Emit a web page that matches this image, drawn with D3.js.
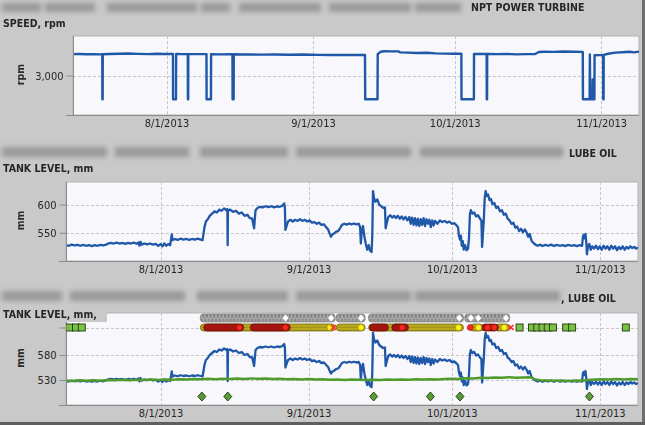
<!DOCTYPE html>
<html><head><meta charset="utf-8">
<script src="https://cdn.jsdelivr.net/npm/d3@7"></script>
<style>
html,body{margin:0;padding:0;background:#c9c9c9;}
svg{display:block;}
</style></head><body>
<svg id="chart" width="645" height="425"></svg>
<script>
// ---------------- DATA (day offsets are days from 8/1/2013) ----------------
const xTickDates = ["2013-08-01", "2013-09-01", "2013-10-01", "2013-11-01"];
const dayDomain = [-19.8, 100.0];
const speedTicks = [3000];
const tankTicks = [550, 600];
const tank3Ticks = [530, 580, 635];

const speedSeries = [
  [-19.8,3540],[-18.5,3545],[-17,3538],[-15.5,3542],[-14,3536],
  [-13.6,3538],[-13.58,2400],[-13.52,2400],[-13.5,3538],
  [-12,3545],[-10,3552],[-8,3556],[-6,3548],[-4,3540],[-2,3552],[-0.5,3545],[1,3548],
  [1.36,3545],[1.38,2400],[2.0,2400],[2.03,3545],
  [3,3540],[4.5,3542],[4.52,2400],[4.58,2400],[4.6,3542],
  [6,3540],[8.45,3540],[8.48,2400],[9.4,2400],[9.43,3538],
  [11,3535],[13.95,3538],[13.98,2400],[14.2,2400],[14.23,3538],
  [16,3530],[18,3535],[20,3528],[23,3532],[26,3525],[29,3530],[32,3522],[35,3520],[38,3518],[40,3522],[42,3520],
  [42.05,2400],[44.65,2400],[44.7,3540],[45.3,3600],[46,3615],[47.5,3612],[49,3610],[49.5,3585],[51,3580],
  [53,3570],[55,3575],[57,3560],[59,3555],[61,3552],[62.4,3550],
  [62.43,2400],[65.05,2400],[65.08,3545],
  [66.5,3545],[67.75,3545],[67.78,2400],[67.84,2400],[67.87,3545],
  [70,3540],[72,3548],[74,3535],[76,3540],[78,3545],[78.8,3595],[80,3600],[82,3598],[84,3606],[86,3600],[88.1,3598],
  [88.13,2400],[89.55,2400],[89.6,3530],[89.68,2400],[90.15,2400],[90.2,2900],[90.26,2400],[90.56,2400],[90.6,3512],
  [91.5,3515],[92.4,3515],[92.43,2400],[92.5,2400],[92.53,3520],
  [93.5,3550],[95,3580],[96.5,3590],[98,3600],[99,3585],[100,3605]
];

const tankSeries = [
  [-19.8,528],[-19.2,527],[-18.6,529],[-18,527.5],[-17.4,528.5],[-16.8,527],[-16.2,528.5],[-15.6,527],[-15,528],
  [-14.4,526.5],[-13.8,528],[-13.2,527],[-12.6,528.5],[-12,527.5],[-11.4,529],[-11,531],[-10.4,532],[-9.8,531],
  [-9.2,532.5],[-8.6,531],[-8,532],[-7.4,530.5],[-6.8,532],[-6.2,531],[-5.6,532.5],[-5,530.5],[-4.6,533],[-4.4,527],
  [-4.2,534],[-3.9,529],[-3.4,531],[-2.8,529.5],[-2.2,531],[-1.6,529],[-1,530.5],[-0.5,527],[0,530],[0.4,526],
  [0.8,531],[1.2,527],[1.6,530],[2,528],[2.2,538],[2.35,547],[2.5,537],[3,539],[3.6,537.5],[4.2,539.5],[4.8,538],
  [5.4,539],[6,537.5],[6.6,539],[7.2,538],[7.8,539.5],[8.4,538],[8.8,537],
  [9.0,548],[9.2,560],[9.5,570],[9.9,574],[10.3,580],[10.8,584],[11.3,588],[11.8,586],[12.3,591],[12.8,589],
  [13.3,593],[13.8,590],[14.0,592],[14.06,528],[14.12,589],[14.6,591],[15.2,587],[15.8,589],[16.4,584],[17,586],
  [17.6,580],[18.2,582],[18.7,576],[19.2,575],[19.4,566],[19.6,558],[19.75,575],[19.9,590],[20.3,594],[20.8,596],
  [21.4,595],[22,597],[22.6,595.5],[23.2,597],[23.8,595],[24.4,597],[25,596],[25.5,598],[25.9,602],[26.05,594],
  [26.15,555],[26.4,562],[26.7,570],[27.2,573],[27.7,570],[28.2,573],[28.7,571],[29.2,574],[29.7,571],[30.2,573],
  [30.7,570],[31.2,572],[31.7,568],[32.2,569],[32.7,566],[33.2,568],[33.7,564],[34.2,565],[34.7,560],[35.1,556],
  [35.4,549],[35.7,543],[36,547],[36.4,549],[36.8,552],[37.2,553],[37.6,558],[38,564],[38.5,566],[39,564.5],
  [39.5,566.5],[40,565],[40.5,566.5],[41,565],[41.5,566],[41.8,560],[41.95,531],[42.1,548],[42.4,562],[42.7,543],
  [43,530],[43.3,520],[43.6,528],[43.9,518],[44.2,516],[44.35,545],[44.5,624],[44.7,612],[45,605],[45.4,609],
  [45.8,600],[46.2,597],[46.6,594],[47,595],[47.15,558],[47.4,568],[47.7,578],[48.1,581],[48.5,577],[48.9,580],
  [49.3,576],[49.7,580],[50.1,575],[50.5,579],[50.9,574],[51.3,578],[51.7,572],[52.1,578],[52.4,566],[52.7,577],
  [53,564],[53.3,576],[53.6,563],[53.9,575],[54.2,562],[54.5,574],[54.8,564],[55.1,576],[55.4,562],[55.7,574],
  [56,566],[56.3,573],[56.6,560],[56.9,572],[57.2,563],[57.5,571],[58,566],[58.5,572],[59,569],[59.5,571],
  [60,568],[60.5,570],[61,566],[61.5,567],[62,563],[62.3,560],[62.5,545],[62.7,538],[62.9,545],[63.1,527],
  [63.3,535],[63.5,520],[63.8,528],[64.1,519],[64.4,522],[64.6,540],[64.8,583],[65,590],[65.3,584],[65.7,586],
  [66.1,579],[66.5,581],[66.9,575],[67.2,572],[67.35,525],[67.5,545],[67.7,572],[67.9,612],[68.1,624],[68.3,615],
  [68.6,618],[68.9,608],[69.2,610],[69.5,601],[69.9,603],[70.3,594],[70.7,596],[71.1,588],[71.5,590],[71.9,582],
  [72.3,584],[72.7,575],[73.1,572],[73.5,566],[73.9,568],[74.3,559],[74.7,561],[75.1,553],[75.5,557],[75.9,551],
  [76.3,556],[76.7,550],[77,543],[77.3,548],[77.7,536],[78.1,532],[78.5,529],[79,527],[79.5,529],[80,526.5],
  [80.6,528.5],[81.2,527],[81.8,529],[82.4,526.5],[83,528.5],[83.6,527],[84.2,528],[84.8,526.5],[85.4,528.5],
  [86,527],[86.6,528],[87.2,526.5],[87.8,528],[88.3,527],[88.45,543],[88.6,546],[88.8,540],[89,548],[89.2,530],
  [89.3,512],[89.5,525],[89.8,530],[90.1,520],[90.4,526],[90.8,522],[91.2,527],[91.6,521],[92,526],[92.4,520],
  [92.8,527],[93.2,522],[93.6,526],[94,520],[94.4,527],[94.8,522],[95.2,526],[95.6,519],[96,525],[96.4,521],
  [96.8,526],[97.2,520],[97.6,525],[98,522],[98.4,526],[98.8,523],[99.2,525],[99.6,522],[100,524]
];

const refSeries = [
  [-19.8,529],[-18.5,528],[-17,529.5],[-15.5,528.5],[-14,529.5],[-12.5,528.5],[-11,530],[-9.5,529.5],[-8,530.5],
  [-6.5,529.5],[-5,530.5],[-3.5,530],[-2,531],[-0.5,530],[1,531],[2.5,530.5],[4,531.5],[5.5,531],[7,532],
  [8.5,531.5],[10,532.5],[11.5,531.5],[13,532.5],[14.5,532],[16,533],[17.5,532],[19,533],[20.5,532.5],[22,533],
  [23.5,532],[25,532.5],[26.5,531.5],[28,532],[29.5,531],[31,532],[32.5,531],[34,531.5],[35.5,530.5],[37,531],
  [38.5,530],[40,531],[41.5,530.5],[43,530],[44.5,530.5],[46,530],[47.5,531],[49,530.5],[50.5,531],[52,530.5],
  [53.5,531.5],[55,531],[56.5,531.5],[58,531],[59.5,532],[61,532.5],[62.5,532],[64,533.5],[65.5,533],[67,534.5],
  [68.5,534],[70,535],[71.5,534.5],[73,535.5],[74.5,534.5],[76,535],[77.5,535.5],[78.5,531],[79.5,529.5],
  [81,529],[82.5,528.5],[84,529],[85.5,528],[87,529],[88.5,528.5],[89.5,530],[91,531],[92.5,531.5],[94,531],
  [95.5,532],[97,531],[98.5,532],[100,531.5]
];

// status rows of the third panel
const statusLevels = { alarm: 654, state: 635, event: 497 };
const greySegments = [[8.85,36.05],[37.31,42.33],[44.09,62.92],[64.24,66.75],[67.38,72.61]];
const whiteDiamondDays = [26.16,35.72,42.0,62.56,65.01,66.54,72.34];
const oliveSegments = [[8.85,36.05],[37.31,42.33],[44.09,62.92],[65.3,67.1],[70.5,72.6]];
const redSegments = [[9.56,16.89],[19.31,26.64],[44.3,47.2],[48.96,51.4],[67.8,70.24]];
const brightRedDays = [16.53,26.16,50.6,64.87,68.5,69.9];
const yellowDays = [35.51,42.0,62.4,66.6,71.98];
const redCrossDays = [36.2,73.4];
const greenSquareDays = [-19.1,-17.7,-16.5,75.2,77.8,78.9,80.0,81.1,82.2,84.95,86.2,97.45];
const eventDiamondDays = [8.66,14.08,44.63,56.52,62.71,89.83];

// ---------------- DRAWING ----------------
const BG = "#c9c9c9";
const PLOT_BG = "#f8f7fb";
const BLUE = "#1f58a8";
const GREEN = "#4f9a2c";
const FONT = "'DejaVu Sans Condensed', 'DejaVu Sans', sans-serif";
const base = Date.UTC(2013, 7, 1);
const toDate = d => new Date(base + d * 864e5);
const fmt = d3.utcFormat("%-m/%-d/%Y");
const tickDates = xTickDates.map(s => new Date(s + "T00:00:00Z"));

const svg = d3.select("#chart");
svg.append("rect").attr("width", 645).attr("height", 425).attr("fill", BG);

const defs = svg.append("defs");
defs.append("filter").attr("id", "blur").attr("filterUnits", "userSpaceOnUse")
  .attr("x", -20).attr("y", -20).attr("width", 700).attr("height", 470)
  .append("feGaussianBlur").attr("stdDeviation", 2.6);
const pat = defs.append("pattern").attr("id", "greyChain").attr("patternUnits", "userSpaceOnUse")
  .attr("width", 3.6).attr("height", 8);
pat.append("rect").attr("width", 3.6).attr("height", 8).attr("fill", "#8f8f8f");
pat.append("polygon").attr("points", "0,4 1.8,0.5 3.6,4 1.8,7.5").attr("fill", "#7c7c7c").attr("stroke", "#d2d2d2").attr("stroke-width", 0.6);
const pat2 = defs.append("pattern").attr("id", "oliveChain").attr("patternUnits", "userSpaceOnUse")
  .attr("width", 3.2).attr("height", 7);
pat2.append("rect").attr("width", 3.2).attr("height", 7).attr("fill", "#b9a91e");
pat2.append("circle").attr("cx", 1.6).attr("cy", 3.5).attr("r", 2.2).attr("fill", "none").attr("stroke", "#8c7f0c").attr("stroke-width", 0.5);

// blurred header text (unreadable in the source)
const headerBlocks = [
  { y: 3, h: 9, segs: [[2,41],[45,95],[107,197],[201,230],[239,321],[329,411],[415,461]] },
  { y: 147, h: 10, segs: [[2,107],[115,189],[200,288],[296,411],[420,563]] },
  { y: 291, h: 10, segs: [[2,62],[70,185],[197,288],[296,411],[415,560]] }
];
const blurG = svg.append("g").attr("filter", "url(#blur)");
headerBlocks.forEach(b => {
  b.segs.forEach(s => blurG.append("rect").attr("x", s[0]).attr("y", b.y).attr("width", s[1] - s[0]).attr("height", b.h)
    .attr("fill", "#8a8a8a").attr("opacity", 0.75));
});

const panels = [
  { left: 73, right: 639, top: 36, bottom: 115, yDomain: [2000, 4000], ticks: speedTicks,
    yFmt: d3.format(","), yTitle: "rpm", series: [{ data: speedSeries, color: BLUE, w: 2.4 }] },
  { left: 66, right: 638, top: 182, bottom: 261, yDomain: [500, 640], ticks: tankTicks,
    yFmt: d3.format("d"), yTitle: "mm", series: [{ data: tankSeries, color: BLUE, w: 2.3 }] },
  { left: 66, right: 638, top: 313, bottom: 405, yDomain: [480, 664], ticks: tank3Ticks,
    yFmt: v => (v === 635 ? "" : d3.format("d")(v)), yTitle: "mm",
    series: [{ data: tankSeries, color: BLUE, w: 2.3 }, { data: refSeries, color: GREEN, w: 2.4 }] }
];

const scales = [];
panels.forEach((p, i) => {
  const x = d3.scaleUtc().domain(dayDomain.map(toDate)).range([p.left, p.right]);
  const y = d3.scaleLinear().domain(p.yDomain).range([p.bottom, p.top]);
  scales.push({ x, y });
  const g = svg.append("g");
  g.append("rect").attr("x", p.left).attr("y", p.top).attr("width", p.right - p.left).attr("height", p.bottom - p.top)
    .attr("fill", PLOT_BG).attr("stroke", "#b4b4b4").attr("stroke-width", 1);
  g.selectAll(".vg").data(tickDates).join("line")
    .attr("x1", d => Math.round(x(d)) + 0.5).attr("x2", d => Math.round(x(d)) + 0.5)
    .attr("y1", p.top).attr("y2", p.bottom).attr("stroke", "#c6c6c6").attr("stroke-dasharray", "3,2");
  g.selectAll(".hg").data(p.ticks).join("line")
    .attr("x1", p.left).attr("x2", p.right)
    .attr("y1", d => Math.round(y(d)) + 0.5).attr("y2", d => Math.round(y(d)) + 0.5)
    .attr("stroke", "#c6c6c6").attr("stroke-dasharray", "3,2");
  defs.append("clipPath").attr("id", "clip" + i).append("rect")
    .attr("x", p.left).attr("y", p.top).attr("width", p.right - p.left).attr("height", p.bottom - p.top);
  const line = d3.line().x(d => x(toDate(d[0]))).y(d => y(d[1]));
  const lg = g.append("g").attr("clip-path", `url(#clip${i})`);
  p.series.forEach(s => {
    lg.append("path").attr("d", line(s.data)).attr("fill", "none").attr("stroke", s.color)
      .attr("stroke-width", s.w).attr("stroke-linejoin", "round");
  });
  g.append("line").attr("x1", p.left - 7).attr("x2", p.right).attr("y1", p.bottom + 0.5).attr("y2", p.bottom + 0.5)
    .attr("stroke", "#8c8c8c");
  g.append("line").attr("x1", p.left + 0.5).attr("x2", p.left + 0.5).attr("y1", p.top).attr("y2", p.bottom)
    .attr("stroke", "#8c8c8c");
  const xa = g.append("g").attr("transform", `translate(0,${p.bottom})`)
    .call(d3.axisBottom(x).tickValues(tickDates).tickFormat(fmt).tickSize(0).tickPadding(4));
  xa.select(".domain").remove();
  xa.selectAll("text").attr("font-family", FONT).attr("font-size", 11).attr("fill", "#262626");
  const ya = g.append("g").attr("transform", `translate(${p.left + 0.5},0)`)
    .call(d3.axisLeft(y).tickValues(p.ticks).tickFormat(p.yFmt).tickSize(7).tickPadding(3));
  ya.select(".domain").remove();
  ya.selectAll("line").attr("stroke", "#8c8c8c");
  ya.selectAll("text").attr("font-family", FONT).attr("font-size", 11).attr("fill", "#262626");
  svg.append("text").attr("transform", `translate(20,${(p.top + p.bottom) / 2 - 1}) rotate(-90)`)
    .attr("text-anchor", "middle").attr("dominant-baseline", "central")
    .attr("font-family", FONT).attr("font-weight", "bold")
    .attr("font-size", 10.5).attr("fill", "#2a2a2a").text(p.yTitle);
});

// ---- status rows, third panel ----
{
  const { x, y } = scales[2];
  const sx = d => x(toDate(d));
  const g = svg.append("g").attr("clip-path", "url(#clip2)");
  const yA = y(statusLevels.alarm), yS = y(statusLevels.state), yE = y(statusLevels.event);
  g.selectAll(".gs").data(greySegments).join("rect")
    .attr("x", d => sx(d[0]) - 2.5).attr("width", d => sx(d[1]) - sx(d[0]) + 5)
    .attr("y", yA - 4).attr("height", 8).attr("rx", 3)
    .attr("fill", "url(#greyChain)").attr("stroke", "#6e6e6e").attr("stroke-width", 0.6);
  g.selectAll(".wd").data(whiteDiamondDays).join("polygon")
    .attr("points", d => { const cx = sx(d); return `${cx - 3.5},${yA} ${cx},${yA - 4} ${cx + 3.5},${yA} ${cx},${yA + 4}`; })
    .attr("fill", "#ffffff").attr("stroke", "#8a8a8a").attr("stroke-width", 0.6);
  g.selectAll(".os").data(oliveSegments).join("rect")
    .attr("x", d => sx(d[0]) - 2.5).attr("width", d => sx(d[1]) - sx(d[0]) + 5)
    .attr("y", yS - 3.5).attr("height", 7).attr("rx", 3.5)
    .attr("fill", "url(#oliveChain)").attr("stroke", "#6a5f05").attr("stroke-width", 0.7);
  g.selectAll(".rs").data(redSegments).join("rect")
    .attr("x", d => sx(d[0]) - 2.5).attr("width", d => sx(d[1]) - sx(d[0]) + 5)
    .attr("y", yS - 3.5).attr("height", 7).attr("rx", 3.5)
    .attr("fill", "#a4150f").attr("stroke", "#5e0805").attr("stroke-width", 0.7);
  g.selectAll(".rd").data(brightRedDays).join("circle")
    .attr("cx", sx).attr("cy", yS).attr("r", 3).attr("fill", "#f42a1c").attr("stroke", "#8a0c05").attr("stroke-width", 0.5);
  g.selectAll(".yd").data(yellowDays).join("circle")
    .attr("cx", sx).attr("cy", yS).attr("r", 3).attr("fill", "#fff21a").attr("stroke", "#968a00").attr("stroke-width", 0.5);
  g.selectAll(".rx").data(redCrossDays).join("path")
    .attr("d", d => { const cx = sx(d); return `M${cx - 2.5},${yS - 2.5}L${cx + 2.5},${yS + 2.5}M${cx - 2.5},${yS + 2.5}L${cx + 2.5},${yS - 2.5}`; })
    .attr("stroke", "#ff2a2a").attr("stroke-width", 1.6);
  g.selectAll(".sq").data(greenSquareDays).join("rect")
    .attr("x", d => sx(d) - 3.5).attr("y", yS - 3.5).attr("width", 7).attr("height", 7)
    .attr("fill", "#7dc144").attr("stroke", "#23390f").attr("stroke-width", 0.9);
  g.selectAll(".ed").data(eventDiamondDays).join("polygon")
    .attr("points", d => { const cx = sx(d); return `${cx - 4},${yE} ${cx},${yE - 4.5} ${cx + 4},${yE} ${cx},${yE + 4.5}`; })
    .attr("fill", "#5a9a38").attr("stroke", "#1d3a0c").attr("stroke-width", 0.9);
}

svg.append("rect").attr("x", 0).attr("y", 305).attr("width", 107).attr("height", 17).attr("fill", BG);

const labels = [
  { t: "NPT POWER TURBINE", x: 471, y: 11 },
  { t: "SPEED, rpm", x: 3, y: 26.5 },
  { t: "LUBE OIL", x: 569, y: 157 },
  { t: "TANK LEVEL, mm", x: 3, y: 172 },
  { t: ", LUBE OIL", x: 561, y: 302 },
  { t: "TANK LEVEL, mm,", x: 3, y: 318 }
];
svg.selectAll(".lbl").data(labels).join("text")
  .attr("x", d => d.x).attr("y", d => d.y).text(d => d.t)
  .attr("font-family", FONT).attr("font-weight", "bold")
  .attr("font-size", 10.5).attr("fill", "#262626");

svg.append("rect").attr("x", 642).attr("y", 0).attr("width", 3).attr("height", 425).attr("fill", "#6e6e6e");
svg.append("rect").attr("x", 0).attr("y", 422).attr("width", 645).attr("height", 3).attr("fill", "#5e5e5e");
</script>
</body></html>
